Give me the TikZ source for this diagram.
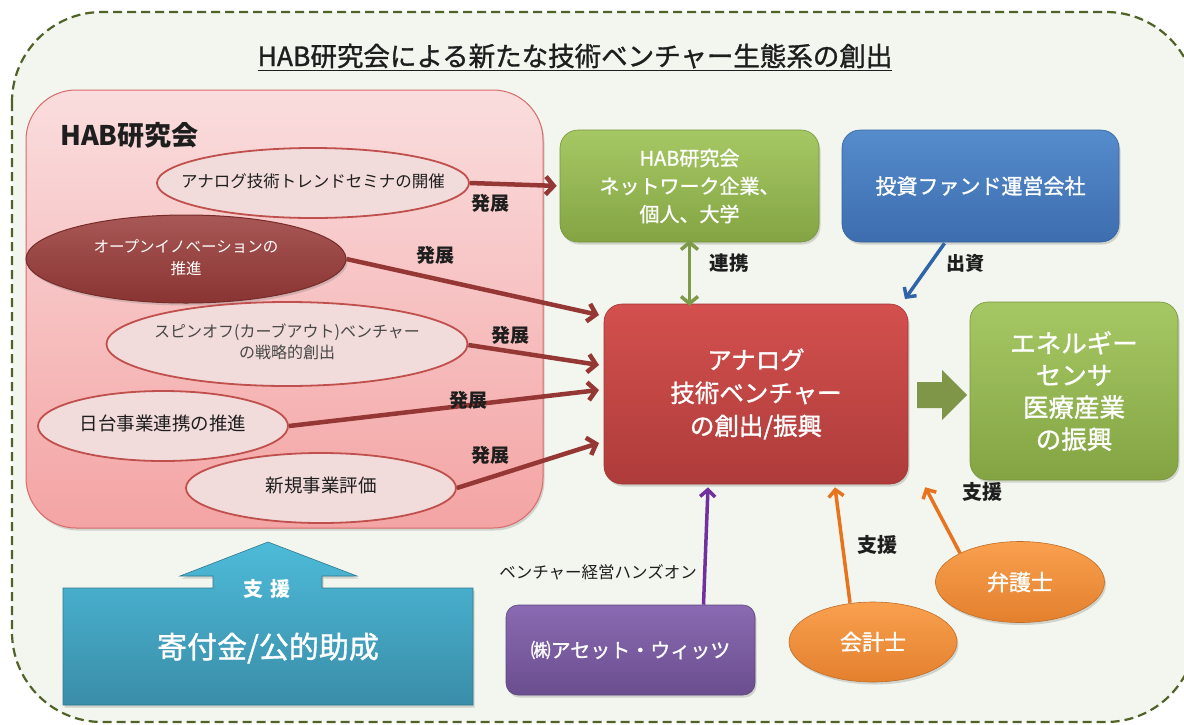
\documentclass[tikz,border=0pt]{standalone}
\usepackage{fontspec}
\setmainfont{Noto Sans CJK JP}
\newfontfamily\med[FakeBold=1.2]{Noto Sans CJK JP}
\usetikzlibrary{arrows.meta,calc,shadows,shapes.geometric}
\newcommand{\zb}[1]{\makebox[0pt]{\begin{tabular}{@{}c@{}}#1\end{tabular}}}
\definecolor{bgc}{HTML}{F3F6EE}
\definecolor{dashc}{HTML}{4F6228}
\definecolor{pinktop}{HTML}{FADDDE}
\definecolor{pinkbot}{HTML}{F4A4A4}
\definecolor{pinkbd}{HTML}{D86A6A}
\definecolor{ellfill}{HTML}{F2DCDB}
\definecolor{ellbd}{HTML}{C0504D}
\definecolor{darkell}{HTML}{983A38}
\definecolor{hattenc}{HTML}{953735}
\definecolor{gtop}{HTML}{A6C864}
\definecolor{gbot}{HTML}{84A443}
\definecolor{btop}{HTML}{558CCB}
\definecolor{bbot}{HTML}{3D6DAE}
\definecolor{rtop}{HTML}{D3504E}
\definecolor{rbot}{HTML}{AE3C3A}
\definecolor{ptop}{HTML}{8A6AB2}
\definecolor{pbot}{HTML}{6A4E8E}
\definecolor{otop}{HTML}{F9A04E}
\definecolor{obot}{HTML}{E3802E}
\definecolor{orarr}{HTML}{E8731E}
\definecolor{purarr}{HTML}{7030A0}
\definecolor{olivearr}{HTML}{7E9A48}
\definecolor{blockarr}{HTML}{7F9648}
\definecolor{bluearr}{HTML}{2F64A8}
\definecolor{ttop}{HTML}{4DBBD9}
\definecolor{tbot}{HTML}{3A8DA8}
\definecolor{txt}{HTML}{1E1E1E}
\begin{document}
\begin{tikzpicture}[x=1pt,y=-1pt,
  shad/.style={drop shadow={shadow xshift=1.5pt,shadow yshift=-2.5pt,opacity=0.3}},
  card/.style={rounded corners=18pt, inner sep=0pt, align=center, text=white, shad},
  gbox/.style={card, top color=gtop, bottom color=gbot, draw=gbot!90!black, line width=0.6pt},
  bbox/.style={card, top color=btop, bottom color=bbot, draw=bbot!90!black, line width=0.6pt},
  rbox/.style={card, top color=rtop, bottom color=rbot, draw=rbot!90!black, line width=0.6pt},
  pbox/.style={card, rounded corners=12pt, top color=ptop, bottom color=pbot, draw=pbot!90!black, line width=0.6pt},
  obox/.style={ellipse, inner sep=0pt, text=white, top color=otop, bottom color=obot, draw=obot!85!black, line width=0.6pt, shad},
  lell/.style={ellipse, inner sep=0pt, align=center, text=txt, fill=ellfill, draw=ellbd, line width=1.8pt},
  hatten/.style={draw=hattenc, line width=4.5pt, -{Straight Barb[length=8pt,width=18pt]}},
  lbl/.style={text=txt, inner sep=0pt, font=\fontsize{19}{22}\selectfont\bfseries},
  thin arr/.style={line width=3.5pt, -{Straight Barb[length=7pt,width=15pt]}}
]
\useasboundingbox (0,0) rectangle (1184,724);
\fill[white] (0,0) rectangle (1184,724);
% outer frame
\draw[dashc, line width=2.2pt, dash pattern=on 9pt off 5pt, fill=bgc, rounded corners=90pt] (12,12) rectangle (1196,722);

% title
\node[text=txt, inner sep=0pt, font=\fontsize{26.5}{30}\selectfont\med] (title) at (575,57) {\underline{HAB研究会による新たな技術ベンチャー生態系の創出}};

% HAB box
\node[rounded corners=50pt, minimum width=517pt, minimum height=438pt, top color=pinktop, bottom color=pinkbot, draw=pinkbd, line width=1pt, shad] (hab) at (284.5,309) {};
\node[anchor=west, text=txt, inner sep=0pt, font=\fontsize{27}{30}\selectfont\bfseries] (hablbl) at (60,135) {HAB研究会};

% ellipses
\node[lell, minimum width=312pt, minimum height=70pt, font=\fontsize{16.5}{20}\selectfont] (e1) at (313,183) {\zb{アナログ技術トレンドセミナの開催}};
\node[ellipse, inner sep=0pt, align=center, text=white, top color=darkell!85!white, bottom color=darkell!90!black, draw=hattenc!80!black, line width=1pt, minimum width=320pt, minimum height=88pt, font=\fontsize{15.5}{22}\selectfont, shad] (e2) at (186,259) {\zb{オープンイノベーションの\\推進}};
\node[lell, minimum width=361pt, minimum height=84pt, text=black!72, font=\fontsize{16}{21}\selectfont] (e3) at (287,344) {\zb{スピンオフ(カーブアウト)ベンチャー\\の戦略的創出}};
\node[lell, minimum width=250pt, minimum height=70pt, font=\fontsize{18.5}{22}\selectfont] (e4) at (163,426) {\zb{日台事業連携の推進}};
\node[lell, minimum width=270pt, minimum height=70pt, font=\fontsize{18.5}{22}\selectfont] (e5) at (321,488) {\zb{新規事業評価}};

% right boxes
\node[gbox, minimum width=259pt, minimum height=112pt, font=\fontsize{20}{28}\selectfont\med] (net) at (689.5,186) {HAB研究会\\ネットワーク企業、\\個人、大学};
\node[bbox, minimum width=277pt, minimum height=112pt, font=\fontsize{21}{26}\selectfont\med] (fund) at (980.5,186) {投資ファンド運営会社};
\node[rbox, minimum width=304pt, minimum height=180pt, font=\fontsize{24.5}{33}\selectfont\med] (red) at (756,394) {アナログ\\技術ベンチャー\\の創出/振興};
\node[gbox, minimum width=208pt, minimum height=178pt, font=\fontsize{25.5}{32}\selectfont\med] (ind) at (1074,391) {エネルギー\\センサ\\医療産業\\の振興};

% block arrow red -> industry
\fill[blockarr] (917,382) -- (942,382) -- (942,370) -- (967,395) -- (942,420) -- (942,408) -- (917,408) -- cycle;

% bottom boxes
\node[pbox, minimum width=249pt, minimum height=90pt, font=\fontsize{20}{24}\selectfont\med] (asset) at (630.5,650) {㈱アセット・ウィッツ};
\node[obox, minimum width=168pt, minimum height=80pt, font=\fontsize{22}{26}\selectfont\med] (kaikei) at (873,642) {会計士};
\node[obox, minimum width=169pt, minimum height=81pt, font=\fontsize{22}{26}\selectfont\med] (bengo) at (1020,582) {弁護士};

% teal support shape
\path[top color=ttop, bottom color=tbot, draw=tbot!85!black, line width=0.6pt, shad]
  (63,588) -- (213,588) -- (213,576) -- (180,576) -- (268,542) -- (357,576) -- (322,576) -- (322,588) -- (473,588) -- (473,705) -- (63,705) -- cycle;
\node[text=white, inner sep=0pt, font=\fontsize{20}{24}\selectfont\bfseries] (shien) at (267,589) {支\hspace{0.35em}援};
\node[text=white, inner sep=0pt, font=\fontsize{30}{34}\selectfont\med] (kifu) at (268,648) {寄付金/公的助成};

% hatten arrows
\coordinate (t2) at (599,315);
\coordinate (t3) at (599,365);
\coordinate (t4) at (599,390);
\coordinate (t5) at (599,443);
\draw[hatten, shorten >=3pt] (e1.east) -- (net.west);
\draw[hatten] (e2.east) -- (t2);
\draw[hatten] ([yshift=-1pt]e3.east) -- (t3);
\draw[hatten] (e4.east) -- (t4);
\draw[hatten] (e5.east) -- (t5);
\node[lbl] (l1) at (490,203) {発展};
\node[lbl] (l2) at (435,255) {発展};
\node[lbl] (l3) at (510,335) {発展};
\node[lbl] (l4) at (468,400) {発展};
\node[lbl] (l5) at (490,455) {発展};

% renkei
\draw[olivearr, line width=3.5pt, {Straight Barb[length=7pt,width=17pt]}-{Straight Barb[length=7pt,width=17pt]}] ([yshift=2pt]net.south) -- ([yshift=-2pt]net.south |- red.north);
\node[lbl, font=\fontsize{19.5}{22}\selectfont\bfseries] (lrenkei) at (729,263) {連携};
% shusshi
\coordinate (fundtip) at (905,299);
\draw[bluearr, thin arr] ($(fund.south)+(-36,1)$) -- (fundtip);
\node[lbl] (lshusshi) at (965,263) {出資};

% purple
\draw[purarr, thin arr] ($(asset.north)+(73,0)$) -- ($(red.south)+(-48,3)$);
\node[text=txt, inner sep=0pt, font=\fontsize{16.5}{20}\selectfont] (lhands) at (598,572) {ベンチャー経営ハンズオン};
% orange
\draw[orarr, thin arr] ($(kaikei.north)+(-23,1)$) -- ($(red.south)+(79,3)$);
\node[lbl, font=\fontsize{20}{24}\selectfont\bfseries] (lk) at (877,545) {支援};
\draw[orarr, thin arr] (bengo.north west) -- ($(red.south east)+(17,3)$);
\node[lbl, font=\fontsize{20}{24}\selectfont\bfseries] (lb) at (982,492) {支援};
\end{tikzpicture}
\end{document}
